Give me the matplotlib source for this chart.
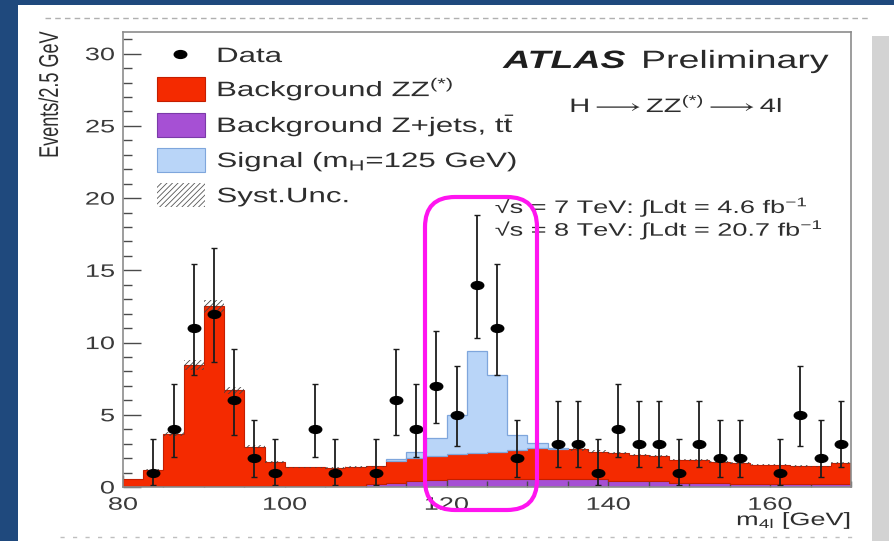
import numpy as np
import matplotlib
matplotlib.use("Agg")
import matplotlib.pyplot as plt
import matplotlib.patheffects as pe
from matplotlib.lines import Line2D
from matplotlib.patches import Rectangle, FancyBboxPatch
from matplotlib.path import Path
from matplotlib.ticker import MultipleLocator
from matplotlib.transforms import Affine2D

plt.rcParams["font.family"] = ["Liberation Sans", "DejaVu Sans"]
plt.rcParams["mathtext.fontset"] = "custom"
plt.rcParams["mathtext.rm"] = "Liberation Sans"
plt.rcParams["mathtext.it"] = "Liberation Sans:italic"
plt.rcParams["mathtext.bf"] = "Liberation Sans:bold"
plt.rcParams["mathtext.fallback"] = "stix"
plt.rcParams["hatch.linewidth"] = 0.6

# =========================
# data: m4l histogram, 2.5 GeV bins from 80 to 170 GeV
# =========================
mass_edges = np.arange(80.0, 172.5, 2.5)

data_counts = np.array([0, 1, 4, 11, 12, 6, 2, 1, 0, 4, 1, 0, 1, 6, 4, 7, 5, 14,
                        11, 2, 0, 3, 3, 1, 4, 3, 3, 1, 3, 2, 2, 0, 1, 5, 2, 3])
data_lo = np.array([0, 0.17, 2.09, 7.77, 8.62, 3.62, 0.71, 0.17, 0, 2.09, 0.17, 0,
                    0.17, 3.62, 2.09, 4.42, 2.84, 10.35, 7.77, 0.71, 0, 1.37, 1.37, 0.17,
                    2.09, 1.37, 1.37, 0.17, 1.37, 0.71, 0.71, 0, 0.17, 2.84, 0.71, 1.37])
data_hi = np.array([0, 3.30, 7.16, 15.41, 16.55, 9.58, 4.64, 3.30, 0, 7.16, 3.30, 0,
                    3.30, 9.58, 7.16, 10.77, 8.38, 18.84, 15.41, 4.64, 0, 5.92, 5.92, 3.30,
                    7.16, 5.92, 5.92, 3.30, 5.92, 4.64, 4.64, 0, 3.30, 8.38, 4.64, 5.92])

bkg_zjets = np.array([0.04, 0.04, 0.04, 0.04, 0.04, 0.04, 0.04, 0.04, 0.04, 0.04, 0.04, 0.08,
                      0.20, 0.25, 0.45, 0.50, 0.55, 0.55, 0.55, 0.55, 0.55, 0.55, 0.55, 0.55,
                      0.45, 0.45, 0.45, 0.30, 0.30, 0.30, 0.20, 0.20, 0.20, 0.20, 0.20, 0.20])
bkg_zz = np.array([0.51, 1.16, 3.61, 8.41, 12.46, 6.66, 2.76, 1.71, 1.32, 1.32, 1.28, 1.32,
                   1.22, 1.55, 1.55, 1.65, 1.75, 1.80, 1.90, 2.00, 2.17, 2.10, 2.05, 1.90,
                   1.93, 1.77, 1.67, 1.60, 1.55, 1.45, 1.48, 1.35, 1.35, 1.25, 1.22, 1.48])
bkg_syst = np.array([0.02, 0.05, 0.15, 0.35, 0.45, 0.25, 0.10, 0.06, 0.05, 0.05, 0.05, 0.05,
                     0.05, 0.06, 0.07, 0.07, 0.08, 0.08, 0.08, 0.08, 0.08, 0.08, 0.08, 0.08,
                     0.07, 0.07, 0.07, 0.06, 0.06, 0.06, 0.06, 0.05, 0.05, 0.05, 0.05, 0.06])
sig_h125 = np.array([0, 0, 0, 0, 0, 0, 0, 0, 0, 0, 0, 0,
                     0, 0.12, 0.40, 1.25, 2.70, 7.10, 5.30, 1.05, 0.30, 0.05, 0, 0,
                     0, 0, 0, 0, 0, 0, 0, 0, 0, 0, 0, 0])

x_ticks = [80, 100, 120, 140, 160]
y_ticks = [0, 5, 10, 15, 20, 25, 30]

# colours
SLIDE_BLUE = "#1f497d"
RED = "#f42a00"
PURPLE = "#a650d4"
SIG_BLUE = "#b9d5f8"
INK = "#2e2e2e"

STRETCH = 1.5  # glyphs of the scanned plot are drawn wide


class WideText(pe.AbstractPathEffect):
    """Widen glyph paths horizontally about a fixed fraction of their width."""

    def __init__(self, sx=STRETCH, anchor=0.0):
        super().__init__()
        self.sx = sx
        self.anchor = anchor

    def draw_path(self, renderer, gc, tpath, affine, rgbFace=None):
        ext = tpath.get_extents(affine)
        x0 = ext.x0 + self.anchor * ext.width
        affine = affine + Affine2D().translate(-x0, 0).scale(self.sx, 1.0).translate(x0, 0)
        renderer.draw_path(gc, tpath, affine, rgbFace)


def widen(txt, anchor=0.0):
    txt.set_path_effects([WideText(STRETCH, anchor)])
    return txt


# =========================
# figure: slide background + paper
# =========================
fig = plt.figure(figsize=(8.95, 5.41), dpi=100, facecolor=SLIDE_BLUE)
inch = fig.dpi_scale_trans

fig.add_artist(Rectangle((0.18, 0.0), 8.77, 5.36, transform=inch,
                         facecolor="white", edgecolor="none", zorder=-2))
fig.add_artist(Line2D([0.45, 8.70], [5.23, 5.23], transform=inch, color="#9c9c9c",
                      lw=1.0, dashes=(4, 3), alpha=0.8, zorder=-1))
fig.add_artist(Line2D([0.60, 8.60], [0.04, 0.04], transform=inch, color="#b0b0b0",
                      lw=1.0, dashes=(3, 6), alpha=0.8, zorder=-1))
fig.add_artist(Rectangle((8.72, 0.0), 0.17, 5.05, transform=inch,
                         facecolor="#c8c8c8", edgecolor="none", alpha=0.8, zorder=-1))

ax = fig.add_axes([123 / 895, 54 / 541, 728 / 895, 455 / 541])
ax.set_facecolor("white")

# stacked expectation
bkg_total = bkg_zjets + bkg_zz
ax.stairs(bkg_zjets, mass_edges, baseline=0, fill=True,
          facecolor=PURPLE, edgecolor="#7b3aa8", lw=0.6, zorder=1)
ax.stairs(bkg_total, mass_edges, baseline=bkg_zjets, fill=True,
          facecolor=RED, edgecolor="#c41e00", lw=0.8, zorder=2)
ax.stairs(bkg_total + bkg_syst, mass_edges, baseline=bkg_total - bkg_syst, fill=True,
          facecolor="none", edgecolor="#444444", hatch="//////", lw=0, zorder=3)

nz = np.nonzero(sig_h125)[0]
s0, s1 = nz[0], nz[-1] + 1
ax.stairs((bkg_total + sig_h125)[s0:s1], mass_edges[s0:s1 + 1],
          baseline=bkg_total[s0:s1], fill=True,
          facecolor=SIG_BLUE, edgecolor="#7fa6dc", lw=0.9, zorder=4)

# data points with Poisson error bars
centers = 0.5 * (mass_edges[:-1] + mass_edges[1:])
has = data_counts > 0
dot = Path.unit_circle().transformed(Affine2D().scale(1.6, 1.0))
ax.errorbar(centers[has], data_counts[has],
            yerr=[data_counts[has] - data_lo[has], data_hi[has] - data_counts[has]],
            fmt="none", ecolor="#1c1c1c", elinewidth=1.3, capsize=2.5, capthick=1.0,
            zorder=5)
ax.plot(centers[has], data_counts[has], linestyle="none", marker=dot,
        markersize=9, color="black", zorder=6)

# axes
ax.set_xlim(80, 170)
ax.set_ylim(0, 31.5)
ax.set_xticks(x_ticks)
ax.set_yticks(y_ticks)
ax.xaxis.set_minor_locator(MultipleLocator(5))
ax.yaxis.set_minor_locator(MultipleLocator(1))
ax.tick_params(which="both", direction="in", color="#4a4a4a", width=1.0,
               labelcolor="#3a3a3a", labelsize=13)
ax.tick_params(axis="x", which="major", length=9, pad=7)
ax.tick_params(axis="x", which="minor", length=4.5)
ax.tick_params(axis="y", which="major", length=13, pad=6)
ax.tick_params(axis="y", which="minor", length=6.5)
for sp in ax.spines.values():
    sp.set_color("#8c8c8c")
    sp.set_linewidth(1.2)
    sp.set_zorder(7)

for lbl in ax.get_xticklabels():
    widen(lbl, 0.5)
for lbl in ax.get_yticklabels():
    widen(lbl, 1.0)

widen(ax.text(1.0, -0.084, r"m$_{\mathrm{4l}}$ [GeV]", transform=ax.transAxes,
              ha="right", va="baseline", fontsize=13, color=INK), 1.0)
widen(ax.text(-0.100, 1.0, "Events/2.5 GeV", transform=ax.transAxes, rotation=90,
              ha="center", va="top", fontsize=13, color=INK), 0.5)

# legend, drawn entry by entry
leg_rows = [0.934, 0.859, 0.780, 0.703, 0.626]
leg_labels = ["Data",
              r"Background ZZ$^{(*)}$",
              r"Background Z+jets, t$\bar{\mathrm{t}}$",
              r"Signal (m$_{\mathrm{H}}$=125 GeV)",
              "Syst.Unc."]
ax.plot([0.0783], [0.9516], transform=ax.transAxes, linestyle="none", marker=dot,
        markersize=9, color="black", clip_on=False, zorder=8)
box_y = [0.848, 0.769, 0.692, 0.615]
box_style = [dict(facecolor=RED, edgecolor="#c41e00"),
             dict(facecolor=PURPLE, edgecolor="#7b3aa8"),
             dict(facecolor=SIG_BLUE, edgecolor="#7fa6dc"),
             dict(facecolor="white", edgecolor="#555555", hatch="//////", lw=0)]
for y0, st in zip(box_y, box_style):
    kw = dict(lw=0.8)
    kw.update(st)
    ax.add_patch(Rectangle((0.0467, y0), 0.0659, 0.053, transform=ax.transAxes,
                           zorder=8, **kw))
for y, lab in zip(leg_rows, leg_labels):
    widen(ax.text(0.129, y, lab, transform=ax.transAxes, ha="left", va="baseline",
                  fontsize=15, color=INK, zorder=8))

# experiment labels
widen(ax.text(0.522, 0.921, "ATLAS", transform=ax.transAxes, ha="left", va="baseline",
              fontsize=18, fontweight="bold", fontstyle="italic", color="#1e1e1e"))
widen(ax.text(0.713, 0.921, "Preliminary", transform=ax.transAxes, ha="left",
              va="baseline", fontsize=18, color="#2a2a2a"))
widen(ax.text(0.614, 0.824, r"H$\longrightarrow$ZZ$^{(*)}$$\longrightarrow$4l",
              transform=ax.transAxes, ha="left", va="baseline", fontsize=14, color=INK))
widen(ax.text(0.511, 0.602, "√s = 7 TeV: ∫Ldt = 4.6 fb$^{-1}$", transform=ax.transAxes,
              ha="left", va="baseline", fontsize=13, color=INK))
widen(ax.text(0.511, 0.552, "√s = 8 TeV: ∫Ldt = 20.7 fb$^{-1}$", transform=ax.transAxes,
              ha="left", va="baseline", fontsize=13, color=INK))

# hand-drawn highlight around the 125 GeV excess
fig.add_artist(FancyBboxPatch((4.25, 0.31), 1.12, 3.13, transform=inch,
                              boxstyle="round,pad=0,rounding_size=0.30",
                              fill=False, edgecolor="#ff14f0", lw=3.0, zorder=10))

fig.savefig("out.png", dpi=100, facecolor=fig.get_facecolor())
